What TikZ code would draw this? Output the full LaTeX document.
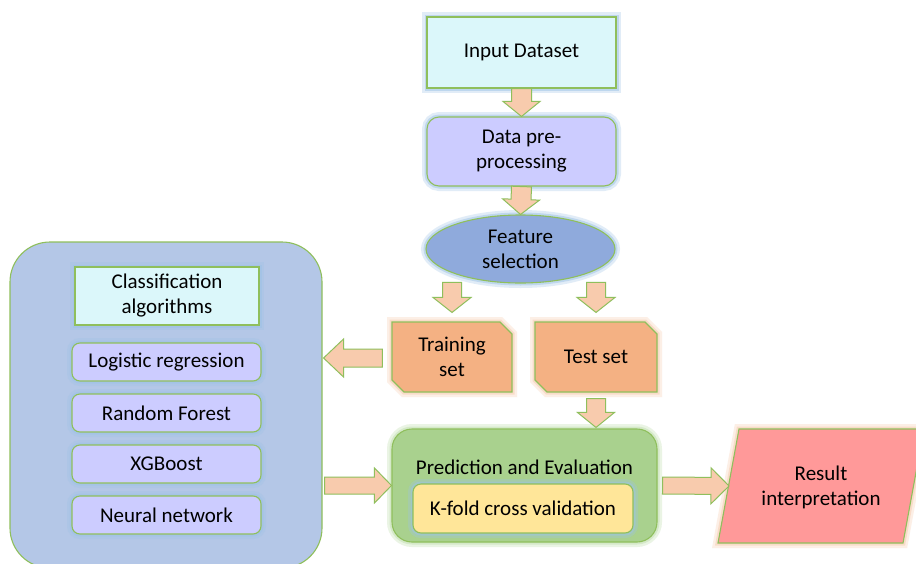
\documentclass[tikz,border=0pt]{standalone}
\usepackage{fontspec}
\setmainfont{Carlito}
\usetikzlibrary{shapes.geometric,shapes.misc,calc}
\definecolor{bgreen}{HTML}{8FBF5C}
\definecolor{cyanf}{HTML}{DBF7FA}
\definecolor{lav}{HTML}{CCCCFF}
\definecolor{ellf}{HTML}{8FAADC}
\definecolor{orf}{HTML}{F4B183}
\definecolor{arrf}{HTML}{F8CBAD}
\definecolor{bigf}{HTML}{B4C7E7}
\definecolor{greenf}{HTML}{A9D18E}
\definecolor{yellf}{HTML}{FFE699}
\definecolor{pinkf}{HTML}{FF9999}
\definecolor{glowblue}{HTML}{9DC3E6}
\definecolor{gloworange}{HTML}{F8CBAD}
\definecolor{glowgreen}{HTML}{C5E0B4}
\newcommand\fs{\fontsize{21}{25}\selectfont}
\tikzset{
  base/.style={draw=bgreen, line width=1.1pt, text=black, align=center, inner sep=0pt, font=\fs},
  glowB/.style={preaction={draw=glowblue, line width=10pt, draw opacity=0.3},
                preaction={draw=glowblue, line width=5pt, draw opacity=0.5}},
  glowO/.style={preaction={draw=gloworange, line width=10pt, draw opacity=0.3},
                preaction={draw=gloworange, line width=5pt, draw opacity=0.5}},
  glowG/.style={preaction={draw=glowgreen, line width=10pt, draw opacity=0.35},
                preaction={draw=glowgreen, line width=5pt, draw opacity=0.55}},
  barrow/.style={draw=bgreen, fill=arrf, line width=1pt, line join=miter},
  algbox/.style={base, glowB, fill=lav, rounded corners=8pt, minimum width=189pt, minimum height=38pt},
  snipbox/.style={base, glowO, chamfered rectangle, chamfered rectangle corners={north east,south west},
                  chamfered rectangle xsep=6pt, chamfered rectangle ysep=6pt, fill=orf, minimum height=70pt}
}
% block arrow: from, to, half shaft width, half head width, head length
\newcommand\blockarrow[5]{%
  \coordinate (ba-c) at ($(#2)!#5!(#1)$);
  \draw[barrow] ($(#1)!#3!-90:(#2)$) -- ($(ba-c)!#3!-90:(#2)$) -- ($(ba-c)!#4!-90:(#2)$) -- (#2)
     -- ($(ba-c)!#4!90:(#2)$) -- ($(ba-c)!#3!90:(#2)$) -- ($(#1)!#3!90:(#2)$) -- cycle;}
\begin{document}
\begin{tikzpicture}[x=1pt,y=-1pt]
\useasboundingbox (0,0) rectangle (916,563);
\clip (0,0) rectangle (916,563);
\fill[white] (0,0) rectangle (916,563);

% main column
\node[base, glowB, fill=cyanf, minimum width=189pt, minimum height=71pt] (in) at (521.5,52.5) {Input Dataset};
\node[base, glowB, fill=lav, rounded corners=12pt, minimum width=189pt, minimum height=69pt] (pre) at (521.5,151.5) {Data pre-\\processing};
\node[base, glowB, ellipse, fill=ellf, minimum width=189pt, minimum height=68pt] (fs) at (520.5,249) {Feature\\selection};
\node[snipbox, minimum width=120pt] (train) at (452,357) {Training\\set};
\node[snipbox, minimum width=122pt] (test) at (596,357) {Test set};

% prediction
\node[base, glowG, fill=greenf, rounded corners=20pt, minimum width=265pt, minimum height=113pt] (pred) at (524.5,485.5) {};
\node[font=\fs, inner sep=0pt] (predt) at (524.5,467) {Prediction and Evaluation};
\node[base, glowB, fill=yellf, rounded corners=8pt, minimum width=220pt, minimum height=49pt] (kf) at (523,508.5) {K-fold cross validation};

% classification
\node[base, fill=bigf, rounded corners=40pt, minimum width=312pt, minimum height=326pt] (cls) at (166,405) {};
\node[base, glowB, fill=cyanf, minimum width=184pt, minimum height=58pt] (calg) at (167,296) {Classification\\algorithms};
\node[algbox] (lr) at (166.5,362) {Logistic regression};
\node[algbox] (rf) at (166.5,413) {Random Forest};
\node[algbox] (xg) at (166.5,464) {XGBoost};
\node[algbox] (nn) at (166.5,515) {Neural network};

% result
\coordinate (r1) at (718,543);
\coordinate (r2) at (739,429);
\coordinate (r3) at (924,429);
\coordinate (r4) at (903,543);
\draw[draw=bgreen, line width=1.1pt, fill=pinkf, glowO] (r1) -- (r2) -- (r3) -- (r4) -- cycle;
\node[font=\fs, align=center, inner sep=0pt] (res) at (821,487) {Result\\interpretation};
\coordinate (resL) at (729,486);

% arrows
\blockarrow{in.south}{pre.north}{10pt}{18.5pt}{15pt}
\blockarrow{pre.south}{fs.north}{10pt}{18.5pt}{15pt}
\coordinate (ft1) at ($(train.north)+(0,-39)$);
\coordinate (ft2) at ($(train.north)+(0,-9)$);
\blockarrow{ft1}{ft2}{9.5pt}{19pt}{15pt}
\coordinate (fe1) at ($(test.north)+(0,-39)$);
\coordinate (fe2) at ($(test.north)+(0,-9)$);
\blockarrow{fe1}{fe2}{9.5pt}{19pt}{15pt}
\coordinate (tp1) at ($(test.south)+(0,6)$);
\coordinate (tp2) at ($(test.south |- pred.north)+(0,-1)$);
\blockarrow{tp1}{tp2}{9.5pt}{18.5pt}{15pt}
\coordinate (tc1) at ($(train.west)+(-9,1)$);
\coordinate (tc2) at ($(cls.east |- tc1)+(1,0)$);
\blockarrow{tc1}{tc2}{9pt}{19pt}{20pt}
\coordinate (cp1) at ($(cls.east |- pred.west)+(2,0)$);
\blockarrow{cp1}{pred.west}{8.5pt}{17.5pt}{17pt}
\coordinate (pr1) at ($(pred.east)+(5,0)$);
\blockarrow{pr1}{resL}{8.5pt}{18pt}{18pt}
\end{tikzpicture}
\end{document}
